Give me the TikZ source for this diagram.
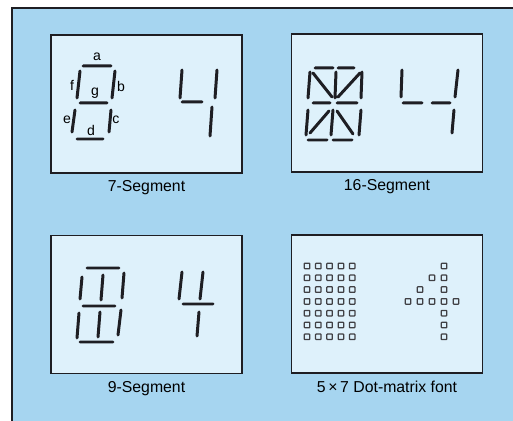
\documentclass[tikz,border=0pt]{standalone}
\usepackage{fontspec}
\setmainfont{Liberation Sans}
\usetikzlibrary{positioning}
\definecolor{outerblue}{RGB}{166,213,240}
\definecolor{panelblue}{RGB}{222,241,251}
\definecolor{inkdark}{RGB}{30,30,35}

\begin{document}
\begin{tikzpicture}[x=0.02cm,y=-0.02cm,
    seg/.style={line width=1.7pt,line cap=round,draw=inkdark},
    panel/.style={draw=inkdark,line width=0.8pt,fill=panelblue,minimum width=3.82cm,minimum height=2.76cm,inner sep=0pt},
    caption/.style={font=\fontsize{9}{10}\selectfont,inner sep=1pt},
    seglabel/.style={font=\fontsize{8}{9}\selectfont,inner sep=0pt},
    dotcell/.style={draw=inkdark!85,line width=0.7pt,rounded corners=0.35pt,minimum size=0.11cm,inner sep=0pt}
  ]
    \useasboundingbox (0,0) rectangle (513,421);
    \fill[outerblue] (12,8) rectangle (513,421);
    \draw[inkdark,line width=0.6pt] (12,421) -- (12,8) -- (513,8);

    % the four display windows
    \node[panel] (p7) at (146.5,104) {};
    \node[caption,below=0.1cm of p7] (c7) {7-Segment};
    \node[panel] (p16) at (387,103) {};
    \node[caption,below=0.1cm of p16] (c16) {16-Segment};
    \node[panel] (p9) at (146.5,304.5) {};
    \node[caption,below=0.1cm of p9] (c9) {9-Segment};
    \node[panel] (pdm) at (387,304) {};
    \node[caption,below=0.1cm of pdm] (cdm) {5\,×\,7 Dot-matrix font};

    % 7-segment
    \draw[seg] (83,66) -- (111,66)  (80,71) -- (77,98)  (115,71) -- (112,98)
      (80,103) -- (107,103)  (75,110) -- (72,132)  (111,110) -- (109,132)
      (77,139) -- (103,139);
    \node[seglabel] (la) at (97,57) {a};
    \node[seglabel] (lb) at (121,86) {b};
    \node[seglabel] (lc) at (116,120) {c};
    \node[seglabel] (ld) at (91,130) {d};
    \node[seglabel] (le) at (67,120) {e};
    \node[seglabel] (lf) at (72,85) {f};
    \node[seglabel] (lg) at (95,93) {g};
    \draw[seg] (182,70) -- (180,98)  (182,102) -- (202,102)
      (217,70) -- (215,98)  (212,107) -- (210,136);

    % 16-segment
    \draw[seg] (315,68) -- (333,68)  (338,68) -- (354,68)
      (310,72) -- (308,98)  (336,72) -- (335,98)  (362,72) -- (361,98)
      (313,73) -- (332,97)  (360,73) -- (338,97)
      (313,103) -- (330,103)  (337,103) -- (357,103)
      (308,110) -- (306,135)  (333,110) -- (331,135)  (361,110) -- (359,135)
      (329,111) -- (310,133)  (337,111) -- (353,134)
      (308,140) -- (327,140)  (333,140) -- (352,140);
    \draw[seg] (402,70) -- (401,97)  (403,103) -- (422,103)
      (432,103) -- (450,103)  (458,70) -- (455,97)  (454,110) -- (452,133);

    % 9-segment
    \draw[seg] (87,268) -- (119,268)
      (82,277) -- (80,299)  (103,275) -- (101,300)  (124,273) -- (122,298)
      (83,306) -- (115,306)
      (79,313) -- (77,338)  (100,312) -- (98,337)  (121,310) -- (118,335)
      (80,342) -- (113,342);
    \draw[seg] (182,272) -- (179,299)  (203,272) -- (200,299)
      (183,304) -- (213,304)  (199,312) -- (197,336);

    % 5x7 dot matrix
    \foreach \c in {0,...,4} {
      \foreach \r in {0,...,6} {
        \node[dotcell] (m\c\r) at (307+11.3*\c,266+11.8*\r) {};
      }
    }
    \foreach \c/\r in {3/0,2/1,3/1,1/2,3/2,0/3,1/3,2/3,3/3,4/3,3/4,3/5,3/6} {
      \node[dotcell] (f\c\r) at (408+12*\c,266+11.8*\r) {};
    }
  \end{tikzpicture}
\end{document}
